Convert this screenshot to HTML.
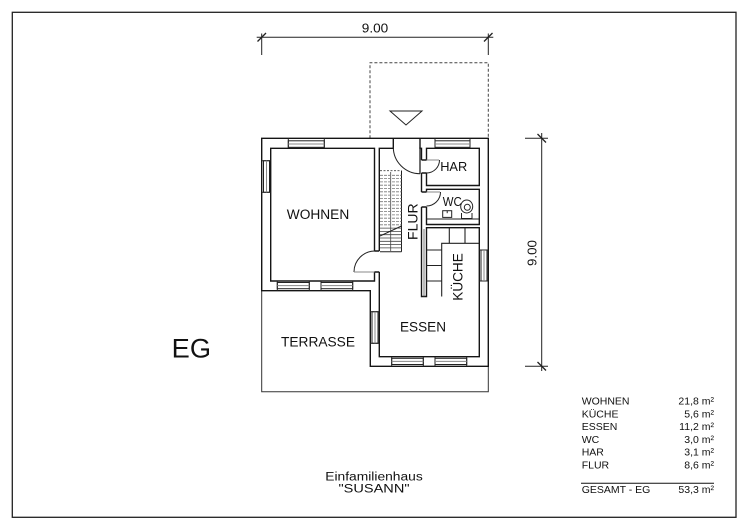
<!DOCTYPE html>
<html><head><meta charset="utf-8"><style>
html,body{margin:0;padding:0;background:#fff;}
svg{display:block;}
text{font-family:"Liberation Sans",Arial,sans-serif;fill:#111;}
</style></head><body>
<svg width="750" height="530" viewBox="0 0 750 530" xmlns="http://www.w3.org/2000/svg">
<rect x="0" y="0" width="750" height="530" fill="#fff"/>
<!-- frame -->
<rect x="12.3" y="12.3" width="723.7" height="505" fill="none" stroke="#222" stroke-width="1.3"/>

<!-- top dimension -->
<g stroke="#222" stroke-width="1" fill="none">
<path d="M256.7,37.3 H493.3"/>
<path d="M261.7,33.5 V55 M488.3,33.5 V55"/>
<path d="M257.5,41.5 L266,33 M484,41.5 L492.5,33" stroke-width="1.3"/>
<!-- right dimension -->
<path d="M541.7,133 V371"/>
<path d="M525,138.3 H548 M525,366.3 H548"/>
<path d="M537.5,134 L546,142.5 M537.5,362 L546,370.5" stroke-width="1.3"/>
</g>
<text x="375" y="32.5" font-size="12.5" text-anchor="middle" textLength="26.5" lengthAdjust="spacingAndGlyphs">9.00</text>
<text transform="translate(536.5,253) rotate(-90)" font-size="12.5" text-anchor="middle" textLength="26" lengthAdjust="spacingAndGlyphs">9.00</text>

<!-- canopy dashed -->
<path d="M370,138.3 V62.7 H488.3 V138.3" fill="none" stroke="#444" stroke-width="1" stroke-dasharray="3 2"/>
<polygon points="390,111 422,111 406,125" fill="none" stroke="#222" stroke-width="1"/>

<!-- terrace -->
<path d="M261.7,290.7 V391.7 H488.3 V366.3" fill="none" stroke="#333" stroke-width="1"/>

<!-- walls -->
<g fill="none" stroke="#151515" stroke-width="1.4">
<path d="M261.7,138.3 H488.3 V366.3 H370.3 V290.7 H261.7 Z"/>
<!-- WOHNEN inner -->
<path d="M374.5,251 V148.3 H270.7 V281 H374.5 V272"/>
<path d="M374.5,251 H379.3 M374.5,272 H379.3"/>
<!-- FLUR / ESSEN -->
<path d="M379.3,251 V148.3 H393.3 V138.3"/>
<path d="M379.3,272 V356.7 H479.3 V227.7 H426.5 V296.5 H421.5 V207"/>
<path d="M420,138.3 V148.3 H421.5 V160"/>
<path d="M421.5,173 V192"/>
<!-- HAR -->
<path d="M426.5,160 V148.3 H479.3 V185.5 H426.5 V173"/>
<!-- WC -->
<path d="M426.5,192 V189.3 H479.3 V224.5 H426.5 V207"/>
<path d="M421.5,160 H426.5 M421.5,173 H426.5 M421.5,192 H426.5 M421.5,207 H426.5"/>
</g>
<!-- wc counter -->
<path d="M426.5,219 H479.3" stroke="#222" stroke-width="1.1"/>

<!-- kitchen counters -->
<g fill="none" stroke="#222" stroke-width="1.1">
<path d="M441.7,296.5 V243.3 H479.3"/>
<path d="M449.3,227.7 V243.3 M465,227.7 V243.3"/>
<path d="M426.5,250 H441.7 M426.5,265.5 H441.7 M426.5,281 H441.7"/>
<path d="M424,229 V296.5" stroke="#555" stroke-width="0.8"/>
</g>

<!-- windows -->
<g stroke="#222" stroke-width="1" fill="#fff">
<!-- top WOHNEN -->
<rect x="288.3" y="140.8" width="36" height="6.5"/>
<path d="M288.3,138.3 V148.3 M324.3,138.3 V148.3" fill="none"/>
<path d="M288.3,144 H324.3" stroke="#888" fill="none"/>
<!-- top HAR -->
<rect x="435" y="140.8" width="35" height="6.5"/>
<path d="M435,138.3 V148.3 M470,138.3 V148.3" fill="none"/>
<path d="M435,144 H470" stroke="#888" fill="none"/>
<!-- left WOHNEN -->
<rect x="263.5" y="160.7" width="6" height="31.6"/>
<path d="M261.7,160.7 H270.7 M261.7,192.3 H270.7" fill="none"/>
<path d="M266.5,160.7 V192.3" stroke="#888" fill="none"/>
<!-- bottom WOHNEN -->
<rect x="277.3" y="282.5" width="32" height="6.2"/>
<rect x="321" y="282.5" width="31.7" height="6.2"/>
<path d="M277.3,281 V290.7 M309.3,281 V290.7 M321,281 V290.7 M352.7,281 V290.7" fill="none"/>
<path d="M277.3,285.6 H309.3 M321,285.6 H352.7" stroke="#888" fill="none"/>
<!-- ESSEN left -->
<rect x="372" y="311.7" width="6" height="31.6"/>
<path d="M370.3,311.7 H379.3 M370.3,343.3 H379.3" fill="none"/>
<path d="M375,311.7 V343.3" stroke="#888" fill="none"/>
<!-- ESSEN bottom -->
<rect x="391.7" y="358.3" width="31.6" height="6.2"/>
<rect x="435" y="358.3" width="31.7" height="6.2"/>
<path d="M391.7,356.7 V366.3 M423.3,356.7 V366.3 M435,356.7 V366.3 M466.7,356.7 V366.3" fill="none"/>
<path d="M391.7,361.4 H423.3 M435,361.4 H466.7" stroke="#888" fill="none"/>
<!-- right KUECHE -->
<rect x="481" y="250" width="6" height="31"/>
<path d="M479.3,250 H488.3 M479.3,281 H488.3" fill="none"/>
<path d="M484,250 V281" stroke="#888" fill="none"/>
</g>

<!-- stair -->
<g fill="none" stroke="#444" stroke-width="0.8">
<path d="M380,170.7 H401.5" stroke-dasharray="2 1.5"/>
<path d="M401.5,170.7 V251.7 M380,251.7 H401.5" stroke="#222" stroke-width="1"/>
<path d="M390.7,172 V251"/>
<path d="M380,175.3 H401.5 M380,178.6 H401.5 M380,181.9 H401.5 M380,185.2 H401.5 M380,188.5 H401.5 M380,191.8 H401.5 M380,195.1 H401.5 M380,198.4 H401.5 M380,201.7 H401.5 M380,205 H401.5 M380,208.3 H401.5 M380,211.6 H401.5 M380,214.9 H401.5 M380,218.2 H401.5 M380,221.5 H401.5 M380,224.8 H401.5" stroke="#777" stroke-dasharray="3 1"/>
<path d="M380,228.1 H401.5 M380,231.4 H401.5 M380,234.7 H401.5 M380,238 H401.5 M380,241.3 H401.5 M380,244.6 H401.5 M380,247.9 H401.5"/>
<path d="M380,236 L401.5,226" stroke="#222" stroke-width="1"/>
</g>

<!-- doors -->
<g fill="none" stroke="#222" stroke-width="1">
<path d="M393.3,147 A26.7,26.7 0 0 0 420,173.7"/>
<path d="M420,147 V173.7" stroke-width="1.3"/>
<path d="M354,272 A21,21 0 0 1 375,251"/>
<path d="M354,272 H374.5" stroke="#888"/>
<path d="M439.5,160 A13,13 0 0 1 426.5,173"/>
<path d="M426.5,160 H439" stroke="#888"/>
<path d="M440.5,192 A14,14 0 0 1 426.5,206"/>
<path d="M426.5,192 H440" stroke="#888"/>
</g>

<!-- WC fixtures -->
<g fill="none" stroke="#222" stroke-width="1">
<rect x="442.7" y="210.7" width="9" height="6.7"/>
<path d="M447.2,210.7 V213.2"/>
<ellipse cx="466.7" cy="206.5" rx="6" ry="6.5"/>
<circle cx="467.3" cy="207.3" r="3"/>
<path d="M461.5,213 V218.5 H472 V213"/>
</g>

<!-- labels -->
<text x="318" y="219" font-size="13.5" text-anchor="middle" textLength="62.5" lengthAdjust="spacingAndGlyphs">WOHNEN</text>
<text x="318" y="346.7" font-size="13.5" text-anchor="middle" textLength="74" lengthAdjust="spacingAndGlyphs">TERRASSE</text>
<text x="423" y="331.7" font-size="13.5" text-anchor="middle" textLength="46" lengthAdjust="spacingAndGlyphs">ESSEN</text>
<text x="453.7" y="171" font-size="13" text-anchor="middle" textLength="27" lengthAdjust="spacingAndGlyphs">HAR</text>
<text x="452.3" y="206" font-size="12.5" text-anchor="middle" textLength="19" lengthAdjust="spacingAndGlyphs">WC</text>
<text transform="translate(462.7,277) rotate(-90)" font-size="13.5" text-anchor="middle" textLength="47.5" lengthAdjust="spacingAndGlyphs">KÜCHE</text>
<text transform="translate(417.3,221.7) rotate(-90)" font-size="13.5" text-anchor="middle" textLength="36.5" lengthAdjust="spacingAndGlyphs">FLUR</text>
<text x="171.7" y="357.7" font-size="27" textLength="39.3" lengthAdjust="spacingAndGlyphs">EG</text>
<text x="374" y="480.7" font-size="11.5" text-anchor="middle" textLength="97.5" lengthAdjust="spacingAndGlyphs">Einfamilienhaus</text>
<text x="374" y="492.7" font-size="12" text-anchor="middle" textLength="71" lengthAdjust="spacingAndGlyphs">"SUSANN"</text>

<!-- area table -->
<g font-size="10.5">
<text x="581.7" y="404.5">WOHNEN</text>
<text x="581.7" y="417.3">KÜCHE</text>
<text x="581.7" y="430.1">ESSEN</text>
<text x="581.7" y="442.9">WC</text>
<text x="581.7" y="455.7">HAR</text>
<text x="581.7" y="468.5">FLUR</text>
<text x="581.7" y="493">GESAMT - EG</text>
<text x="714" y="404.5" text-anchor="end">21,8 m²</text>
<text x="714" y="417.3" text-anchor="end">5,6 m²</text>
<text x="714" y="430.1" text-anchor="end">11,2 m²</text>
<text x="714" y="442.9" text-anchor="end">3,0 m²</text>
<text x="714" y="455.7" text-anchor="end">3,1 m²</text>
<text x="714" y="468.5" text-anchor="end">8,6 m²</text>
<text x="714" y="493" text-anchor="end">53,3 m²</text>
</g>
<path d="M581,483.3 H714" stroke="#111" stroke-width="1"/>
</svg>
</body></html>
